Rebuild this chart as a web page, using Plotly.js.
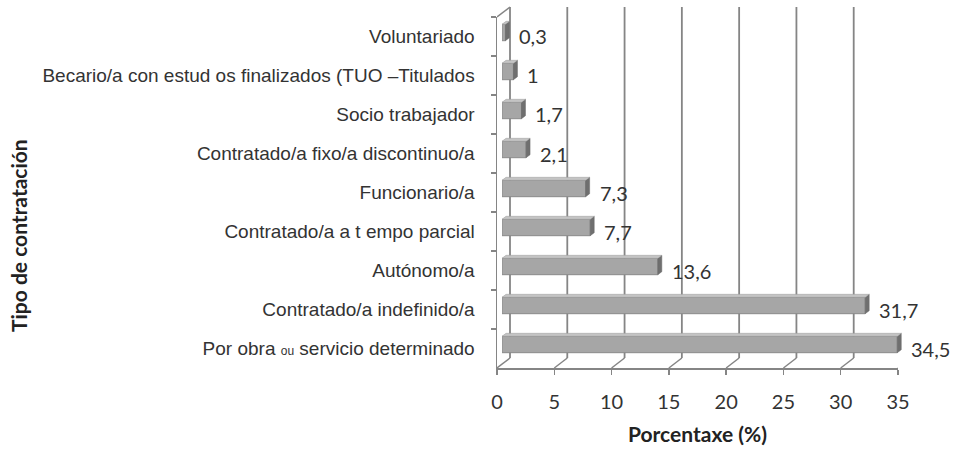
<!DOCTYPE html>
<html>
<head>
<meta charset="utf-8">
<script src="https://cdn.plot.ly/plotly-3.0.1.min.js"></script>
<style>html,body{margin:0;padding:0;background:#fff;}#chart{width:954px;height:453px;}</style>
</head>
<body>
<div id="chart"></div>
<script>
// ---- data ----
const categories = [
  "Voluntariado",
  "Becario/a con estud os finalizados (TUO –Titulados",
  "Socio trabajador",
  "Contratado/a fixo/a discontinuo/a",
  "Funcionario/a",
  "Contratado/a a t empo parcial",
  "Autónomo/a",
  "Contratado/a indefinido/a",
  "Por obra <span style=\"font-size:12px\">ou</span> servicio determinado"
];
const values = [0.3, 1, 1.7, 2.1, 7.3, 7.7, 13.6, 31.7, 34.5];
const valueLabels = ["0,3", "1", "1,7", "2,1", "7,3", "7,7", "13,6", "31,7", "34,5"];
const xTicks = [0, 5, 10, 15, 20, 25, 30, 35];
const xTitle = "Porcentaxe (%)";
const yTitle = "Tipo de contratación";

// ---- geometry (pixels) ----
const W = 954, H = 453;
const L = 497, R = 898, T = 17, B = 368;   // front plane
const DX = 13, DY = 10;                    // depth offset of back wall
const BDX = 5, BDY = 4;                    // depth offset of bars
const paperW = (R + DX) - L, paperH = B - (T - DY);
const frontW = R - L, frontH = B - T;
const XMAX = 35;
const catPx = frontH / categories.length;
const BAR_W = 0.42;
const barH = BAR_W * catPx;
const pxPerUnit = frontW / XMAX;

const gridColor = "#858585";
const textColor = "#333333";
const calFont = "Lato, 'Open Sans', sans-serif";

const bars = {
  type: "bar", orientation: "h",
  x: values, y: categories,
  xaxis: "x2", yaxis: "y2",
  width: BAR_W,
  marker: {color: "#a6a6a6", line: {color: "#8a8a8a", width: 1}},
  hoverinfo: "x+y"
};

const shapes = [];
// back-wall gridlines and floor diagonals
xTicks.forEach(t => {
  shapes.push({type: "line", layer: "below", xref: "x", xsizemode: "pixel", xanchor: t, x0: DX, x1: DX,
    yref: "paper", ysizemode: "pixel", yanchor: 0, y0: DY, y1: frontH + DY,
    line: {color: gridColor, width: 1.8}});
  shapes.push({type: "line", layer: "below", xref: "x", xsizemode: "pixel", xanchor: t, x0: 0, x1: DX,
    yref: "paper", ysizemode: "pixel", yanchor: 0, y0: 0, y1: DY,
    line: {color: gridColor, width: 1.5}});
});
// left wall top diagonal
shapes.push({type: "line", layer: "below", xref: "x", xsizemode: "pixel", xanchor: 0, x0: 0, x1: DX,
  yref: "paper", ysizemode: "pixel", yanchor: frontH / paperH, y0: 0, y1: DY,
  line: {color: gridColor, width: 1.5}});

// bar 3D faces
values.forEach((v, i) => {
  const c = categories[i];
  const dx = 4, dy = 3;
  shapes.push({type: "path", layer: "above", xref: "x2", yref: "y2",
    xsizemode: "pixel", xanchor: v, ysizemode: "pixel", yanchor: c,
    path: `M0,${-barH/2} L0,${barH/2} L${dx},${barH/2+dy} L${dx},${-barH/2+dy} Z`,
    fillcolor: "#6f6f6f", line: {color: "#6a6a6a", width: 0.5}});
  const ddx = dx / pxPerUnit;
  shapes.push({type: "path", layer: "above", xref: "x2", yref: "y2",
    ysizemode: "pixel", yanchor: c,
    path: `M0,${barH/2} L${v},${barH/2} L${v+ddx},${barH/2+dy} L${ddx},${barH/2+dy} Z`,
    fillcolor: "#c4c4c4", line: {color: "#9a9a9a", width: 0.5}});
});

const annotations = values.map((v, i) => ({
  xref: "x2", yref: "y", x: v, y: categories[i],
  text: valueLabels[i], showarrow: false, xanchor: "left", xshift: 12, yshift: 0,
  font: {family: calFont, size: 20, color: textColor}
}));
annotations.push({
  xref: "paper", yref: "paper", x: -(L - 19) / paperW, y: (B - 236) / paperH,
  text: "<b>" + yTitle + "</b>", textangle: -90, showarrow: false,
  xanchor: "center", yanchor: "middle",
  font: {family: calFont, size: 21, color: "#222"}
});

const layout = {
  width: W, height: H,
  margin: {l: L, r: W - (R + DX), t: T - DY, b: H - B, pad: 0},
  paper_bgcolor: "#fff", plot_bgcolor: "rgba(0,0,0,0)",
  showlegend: false,
  xaxis: {
    domain: [0, frontW / paperW], range: [0, XMAX], tickvals: xTicks,
    showgrid: false, zeroline: false, showline: true, linecolor: gridColor, linewidth: 1.5,
    ticks: "outside", ticklen: 5, tickcolor: gridColor, tickwidth: 1.5,
    ticklabelstandoff: 10,
    tickfont: {family: calFont, size: 20, color: textColor},
    title: {text: "<b>" + xTitle + "</b>", standoff: 16,
      font: {family: calFont, size: 21, color: "#222"}},
    anchor: "y", fixedrange: true
  },
  yaxis: {
    domain: [0, frontH / paperH], type: "category",
    categoryorder: "array", categoryarray: categories,
    range: [categories.length - 0.5, -0.5],
    showgrid: false, zeroline: false, showline: true, linecolor: gridColor, linewidth: 1.5,
    ticks: "outside", ticklen: 5, tickcolor: gridColor, tickwidth: 1.5, tickson: "boundaries",
    ticklabelstandoff: 17,
    tickfont: {family: "'Liberation Sans', Arial, sans-serif", size: 19, color: textColor},
    anchor: "x", fixedrange: true
  },
  xaxis2: {
    domain: [BDX / paperW, (frontW + BDX) / paperW], range: [0, XMAX],
    visible: false, anchor: "y2", fixedrange: true
  },
  yaxis2: {
    domain: [BDY / paperH, (frontH + BDY) / paperH], type: "category",
    categoryorder: "array", categoryarray: categories,
    range: [categories.length - 0.5, -0.5],
    visible: false, anchor: "x2", fixedrange: true
  },
  shapes: shapes,
  annotations: annotations
};

Plotly.newPlot("chart", [bars], layout, {displayModeBar: false, staticPlot: true});
</script>
</body>
</html>
